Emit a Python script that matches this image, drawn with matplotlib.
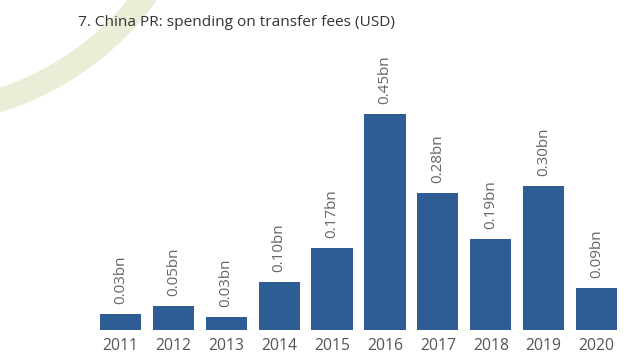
import matplotlib
matplotlib.use("Agg")
import matplotlib.pyplot as plt
from matplotlib.patches import Arc

plt.rcParams['font.family'] = ['Open Sans', 'DejaVu Sans']

# data
years = ['2011', '2012', '2013', '2014', '2015', '2016', '2017', '2018', '2019', '2020']
spend = [0.033, 0.05, 0.027, 0.10, 0.17, 0.45, 0.285, 0.19, 0.30, 0.088]
labels = ['0.03bn', '0.05bn', '0.03bn', '0.10bn', '0.17bn', '0.45bn', '0.28bn', '0.19bn', '0.30bn', '0.09bn']

fig = plt.figure(figsize=(6.4, 3.6), dpi=100)

# decorative green arc (pixel coords, origin bottom-left)
arc = Arc((-89, 360 + 178), 2 * 292, 2 * 292, theta1=270, theta2=360,
          transform=None, color='#e8efd6', lw=17, zorder=0)
fig.patches.append(arc)

fig.text(78 / 640, 1 - 22 / 360, '7. China PR: spending on transfer fees (USD)',
         fontsize=11.1, color='#333333', va='center', ha='left')

ax = fig.add_axes([94 / 640, 30 / 360, 529 / 640, 240 / 360])
ax.patch.set_alpha(0)
x = range(len(years))
bars = ax.bar(x, spend, width=0.78, color='#2e5d96')
for xi, v, lab in zip(x, spend, labels):
    ax.text(xi, v + 0.021, lab, rotation=90, ha='center', va='bottom',
            fontsize=11, color='#666666')

ax.set_xlim(-0.5, len(years) - 0.5)
ax.set_ylim(0, 0.5)
ax.set_xticks(list(x))
ax.set_xticklabels(years, fontsize=11.3, color='#555555')
ax.tick_params(axis='x', length=0, pad=6)
ax.set_yticks([])
for s in ax.spines.values():
    s.set_visible(False)

fig.savefig('out.png', dpi=100)
